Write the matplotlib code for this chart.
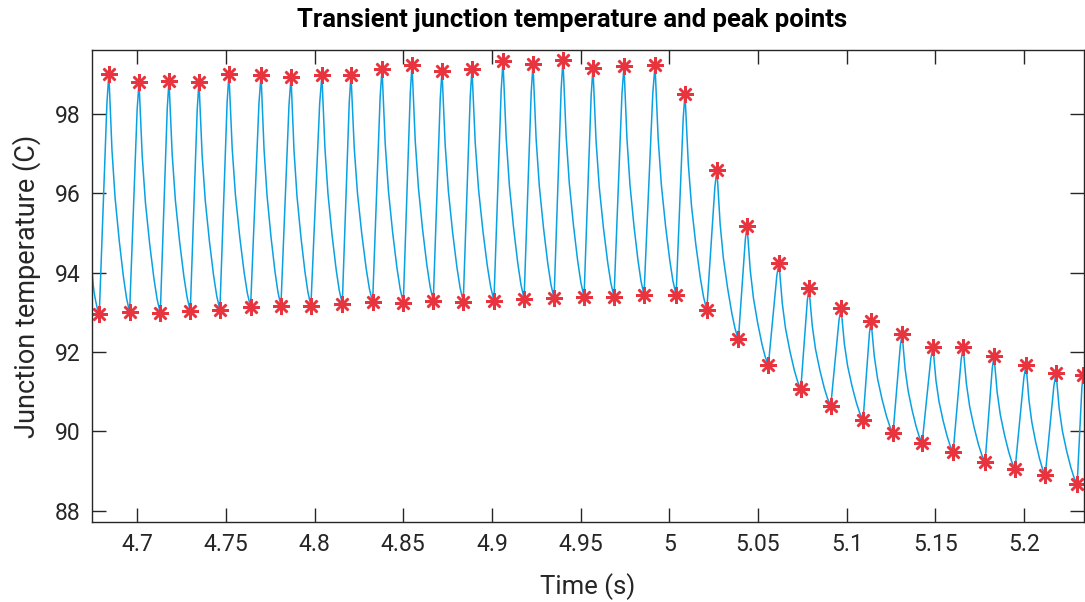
import numpy as np
import matplotlib
matplotlib.use('Agg')
import matplotlib.pyplot as plt

plt.rcParams['font.family'] = ['Roboto', 'DejaVu Sans']

# peak points (time s, temperature C)
peak_t = [4.6840, 4.7010, 4.7179, 4.7348, 4.7517, 4.7698, 4.7867, 4.8041, 4.8205,
          4.8380, 4.8549, 4.8718, 4.8887, 4.9062, 4.9231, 4.9400, 4.9569, 4.9744,
          4.9919, 5.0088, 5.0268, 5.0438, 5.0618, 5.0787, 5.0968, 5.1137, 5.1312,
          5.1486, 5.1656, 5.1830, 5.2011, 5.2180, 5.2332]
peak_v = [99.01, 98.80, 98.84, 98.81, 99.01, 98.97, 98.92, 98.97, 98.98,
          99.13, 99.24, 99.08, 99.13, 99.32, 99.25, 99.36, 99.15, 99.21,
          99.22, 98.50, 96.59, 95.18, 94.24, 93.61, 93.10, 92.78, 92.45,
          92.12, 92.12, 91.90, 91.67, 91.46, 91.42]

# valley points
trough_t = [4.6786, 4.6957, 4.7130, 4.7299, 4.7466, 4.7639, 4.7810, 4.7979, 4.8156,
            4.8327, 4.8500, 4.8669, 4.8838, 4.9011, 4.9181, 4.9350, 4.9519, 4.9688,
            4.9857, 5.0038, 5.0211, 5.0389, 5.0558, 5.0741, 5.0910, 5.1092, 5.1261,
            5.1425, 5.1600, 5.1780, 5.1949, 5.2119, 5.2299]
trough_v = [92.95, 93.00, 92.98, 93.03, 93.06, 93.13, 93.16, 93.16, 93.21,
            93.25, 93.24, 93.29, 93.27, 93.29, 93.34, 93.35, 93.39, 93.39,
            93.44, 93.44, 93.06, 92.32, 91.67, 91.07, 90.65, 90.29, 89.96,
            89.71, 89.48, 89.23, 89.05, 88.90, 88.67]

# first sample of the trace at the left edge
start_t, start_v = 4.6745, 94.07

decay_t = [0, 0.15, 0.3, 0.5, 0.7, 0.85, 1]
decay_f = [0, 0.32, 0.52, 0.7, 0.85, 0.94, 1]
rise_t = [0, 0.5, 0.8, 1]
rise_f = [0, 0.55, 0.88, 1]

# build the trace: start -> trough -> peak -> trough ...
t_line, v_line = [], []
prev_t, prev_v = start_t, start_v
for i in range(len(peak_t)):
    for a, f in zip(decay_t[:-1], decay_f[:-1]):
        t_line.append(prev_t + a * (trough_t[i] - prev_t))
        v_line.append(prev_v + f * (trough_v[i] - prev_v))
    for a, f in zip(rise_t[:-1], rise_f[:-1]):
        t_line.append(trough_t[i] + a * (peak_t[i] - trough_t[i]))
        v_line.append(trough_v[i] + f * (peak_v[i] - trough_v[i]))
    prev_t, prev_v = peak_t[i], peak_v[i]
t_line.append(prev_t)
v_line.append(prev_v)

fig = plt.figure(figsize=(10.85, 6.02), dpi=100)
ax = fig.add_axes([0.0848, 0.1329, 0.9142, 0.7841])

ax.plot(t_line, v_line, color='#0aa1e2', linewidth=1.1)
ax.plot(peak_t, peak_v, linestyle='none', marker=(8, 2, 0), markersize=12,
        markeredgewidth=1.8, color='#e8343f')
ax.plot(trough_t, trough_v, linestyle='none', marker=(8, 2, 0), markersize=12,
        markeredgewidth=1.8, color='#e8343f')

ax.set_xlim(4.6745, 5.2337)
ax.set_ylim(87.715, 99.61)
ax.set_xticks([4.7, 4.75, 4.8, 4.85, 4.9, 4.95, 5.0, 5.05, 5.1, 5.15, 5.2])
ax.set_xticklabels(['4.7', '4.75', '4.8', '4.85', '4.9', '4.95', '5', '5.05', '5.1', '5.15', '5.2'])
ax.set_yticks([88, 90, 92, 94, 96, 98])
ax.tick_params(direction='in', length=10, width=1, top=True, right=True,
               labelsize=16.5, colors='#262626', pad=8)
for s in ax.spines.values():
    s.set_color('#262626')
    s.set_linewidth(1)

ax.set_xlabel('Time (s)', fontsize=18.5, color='#262626', labelpad=12)
ax.set_ylabel('Junction temperature (C)', fontsize=19.5, color='#262626', labelpad=10)
fig.text(0.527, 0.966, 'Transient junction temperature and peak points',
         ha='center', va='center', fontsize=18.5, fontweight='bold', color='black')

fig.savefig('out.png', dpi=100)
